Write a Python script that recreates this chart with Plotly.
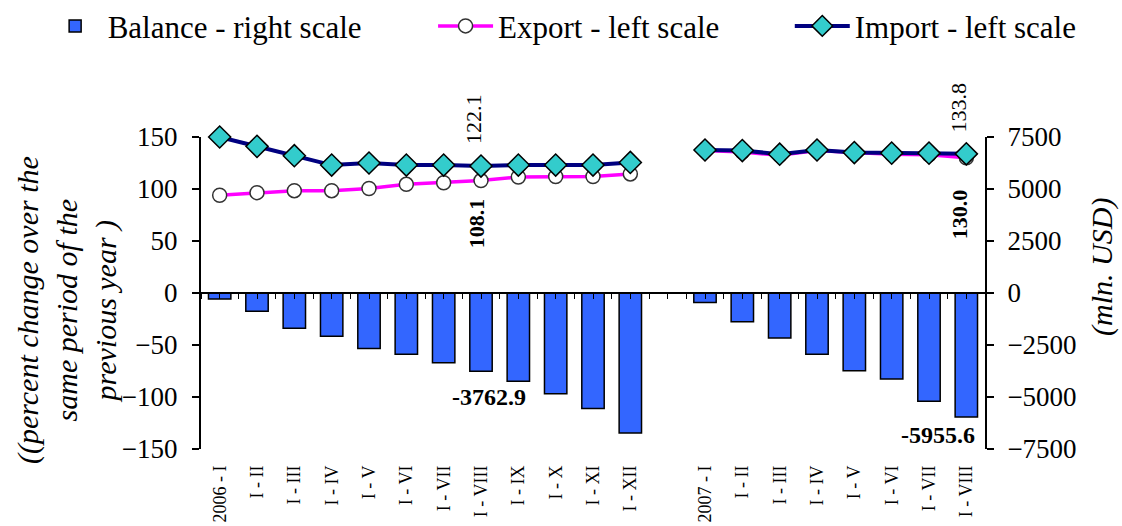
import plotly.graph_objects as go

# periods (cumulative from January)
months_2006 = ["2006 - I", "I - II", "I - III", "I - IV", "I - V", "I - VI",
               "I - VII", "I - VIII", "I - IX", "I - X", "I - XI", "I - XII"]
months_2007 = ["2007 - I", "I - II", "I - III", "I - IV", "I - V", "I - VI",
               "I - VII", "I - VIII"]

# balance, mln. USD (right scale)
balance_2006 = [-290, -880, -1690, -2080, -2670, -2940, -3350, -3762.9,
                -4240, -4840, -5550, -6730]
balance_2007 = [-460, -1385, -2165, -2945, -3740, -4130, -5200, -5955.6]

# percent change over the same period of the previous year (left scale)
export_2006 = [94, 96.5, 98.4, 98.4, 100.5, 104.5, 106, 108.1, 111.5, 112, 112, 114.5]
export_2007 = [137, 135.5, 132.5, 137, 135, 133.5, 133, 130.0]
import_2006 = [150, 141, 132, 123, 125, 123, 123, 122.1, 123, 123, 123, 125.5]
import_2007 = [137.5, 137, 133.5, 137.5, 135, 134.5, 134.5, 133.8]

# one empty slot between the two years
categories = months_2006 + [""] + months_2007
pos = list(range(len(categories)))
balance = balance_2006 + [None] + balance_2007
export = export_2006 + [None] + export_2007
imports = import_2006 + [None] + import_2007

FONT = "Liberation Serif, Times New Roman, serif"

fig = go.Figure()

fig.add_trace(go.Bar(
    x=pos, y=balance, name="Balance - right scale", yaxis="y2", legend="legend",
    width=0.6, marker=dict(color="#3366FF", line=dict(color="black", width=1.5)),
))
fig.add_trace(go.Scatter(
    x=pos, y=export, name="Export - left scale", mode="lines+markers",
    legend="legend2", cliponaxis=False,
    line=dict(color="#FF00FF", width=3.5),
    marker=dict(symbol="circle", size=14, color="white",
                line=dict(color="#333333", width=1.5)),
))
fig.add_trace(go.Scatter(
    x=pos, y=imports, name="Import - left scale", mode="lines+markers",
    legend="legend3", cliponaxis=False,
    line=dict(color="#000080", width=4),
    marker=dict(symbol="diamond", size=17, color="#33CCCC",
                line=dict(color="black", width=1.5)),
))

# value labels
i_aug06 = pos[months_2006.index("I - VIII")]
i_aug07 = pos[len(months_2006) + 1 + months_2007.index("I - VIII")]
notes = [
    (i_aug06, "paper", 1.058, "122.1", -90, -7, 22),
    (i_aug06, "y", 67, "<b>108.1</b>", -90, -5, 22),
    (i_aug07, "paper", 1.096, "133.8", -90, -8, 22),
    (i_aug07, "y", 76, "<b>130.0</b>", -90, -6, 22),
    (i_aug06, "y", -100, "<b>-3762.9</b>", 0, 8, 24),
    (i_aug07, "y", -136.5, "<b>-5955.6</b>", 0, -28, 24),
]
for x, yr, y, t, ang, xs, sz in notes:
    fig.add_annotation(x=x, y=y, xref="x", yref=yr, text=t, showarrow=False,
                       textangle=ang, xshift=xs, yanchor="middle", xanchor="center",
                       font=dict(family=FONT, size=sz, color="black"))

# axis titles
fig.add_annotation(
    x=-0.171, y=0.445, xref="paper", yref="paper", showarrow=False, textangle=-90,
    xanchor="center", yanchor="middle",
    text="<i>((percent change over the<br>same period of the<br>previous year )</i>",
    font=dict(family=FONT, size=30, color="black"),
)
fig.add_annotation(
    x=1.149, y=0.583, xref="paper", yref="paper", showarrow=False, textangle=-90,
    xanchor="center", yanchor="middle",
    text="<i>(mln. USD)</i>", font=dict(family=FONT, size=30, color="black"),
)

leg = dict(orientation="h", y=1.355, yanchor="middle", xanchor="left",
           font=dict(family=FONT, size=31), itemwidth=55, bgcolor="rgba(0,0,0,0)")

fig.update_layout(
    width=1122, height=526, autosize=False,
    margin=dict(l=201, r=137, t=137, b=77, autoexpand=False),
    plot_bgcolor="white", paper_bgcolor="white",
    font=dict(family=FONT, color="black"),
    showlegend=True,
    legend=dict(leg, x=-0.202),
    legend2=dict(leg, x=0.296),
    legend3=dict(leg, x=0.751),
    xaxis=dict(
        tickmode="array", tickvals=pos, ticktext=categories, tickangle=-90,
        range=[-0.5, len(pos) - 0.5], showgrid=False, showline=False,
        ticks="", ticklabelstandoff=12, tickfont=dict(family=FONT, size=18),
        zeroline=False,
    ),
    xaxis2=dict(
        overlaying="x", anchor="free", position=0.5, range=[-0.5, len(pos) - 0.5],
        tickmode="linear", tick0=-0.5, dtick=0.5, ticks="outside", ticklen=5,
        tickcolor="black", showticklabels=False, showline=True, linecolor="black",
        linewidth=2, showgrid=False, zeroline=False,
    ),
    yaxis=dict(
        range=[-150, 150], dtick=50, showgrid=False, zeroline=False,
        showline=True, linecolor="black", linewidth=2, ticks="outside", ticklen=7,
        tickcolor="black", tickwidth=2, ticklabelstandoff=9,
        tickfont=dict(family=FONT, size=27),
    ),
    yaxis2=dict(
        range=[-7500, 7500], dtick=2500, overlaying="y", side="right",
        showgrid=False, zeroline=False, showline=True, linecolor="black",
        linewidth=2, ticks="outside", ticklen=7, tickcolor="black", tickwidth=2,
        ticklabelstandoff=8, tickfont=dict(family=FONT, size=27),
    ),
)

# invisible trace so xaxis2 gets drawn
fig.add_trace(go.Scatter(x=[None], y=[None], xaxis="x2", showlegend=False,
                         hoverinfo="skip"))

# drop the default page margin so the figure sits at the window corner
fig.write_html("out.html", config={"displayModeBar": False},
               post_script="document.body.style.margin='0';")
